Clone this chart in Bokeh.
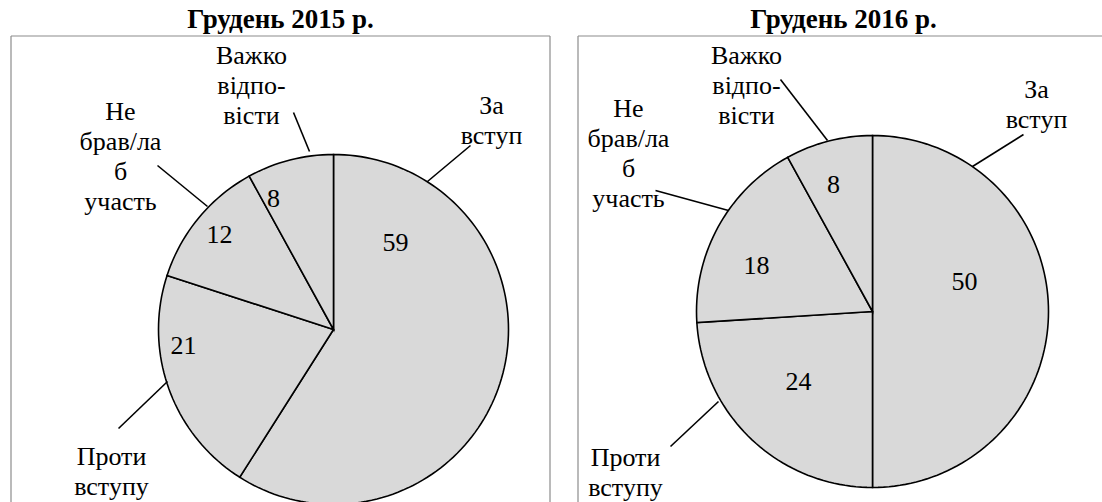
import math
from bokeh.plotting import figure
from bokeh.models import Range1d
from bokeh.core.properties import value
from bokeh.embed import file_html
from bokeh.resources import INLINE

# ---------------- data ----------------
categories = ["За вступ", "Проти вступу", "Не брав/ла б участь", "Важко відповісти"]
label_lines = [["За", "вступ"], ["Проти", "вступу"], ["Не", "брав/ла", "б", "участь"], ["Важко", "відпо-", "вісти"]]
titles = ["Грудень 2015 р.", "Грудень 2016 р."]
values_2015 = [59, 21, 12, 8]
values_2016 = [50, 24, 18, 8]

# ---------------- layout (page pixels) ----------------
W, H = 1102, 502
FONT = "Liberation Serif"
pies = [
    dict(values=values_2015, title=titles[0], cx=333, cy=329, r=175, title_x=280,
         box=(10.5, 549.5),
         value_pos=[(62, -78), (-150, 25), (-114, -86), (-60, -122)],
         label_pos=[(158, -215), (-222, 136), (-213, -209), (-82, -265)],
         leaders=[((137, -184), (94, -148)), ((-215, 99), (-166, 52)),
                  ((-176, -164), (-126, -123)), ((-40, -217), (-24, -178))]),
    dict(values=values_2016, title=titles[1], cx=872, cy=311, r=176, title_x=843,
         box=(577.5, 1110.5),
         value_pos=[(92, -21), (-74, 79), (-116, -37), (-39, -118)],
         label_pos=[(164, -213), (-247, 155), (-244, -194), (-126, -247)],
         leaders=[((151, -177), (100, -145)), ((-202, 135), (-154, 90)),
                  ((-217, -121), (-144, -101)), ((-92, -232), (-45, -171))]),
]
LINE_H = 30
BOX_TOP = 35.5
LABEL_SIZE = "26px"
TEXT_SHIFT = -9     # brings Bokeh's rendered baseline onto the intended one
TITLE_SHIFT = -10

p = figure(width=W, height=H, output_backend="svg", toolbar_location=None,
           x_range=Range1d(0, W), y_range=Range1d(H, 0),
           min_border=0, outline_line_color=None)
p.axis.visible = False
p.grid.visible = False
p.background_fill_color = "white"
p.border_fill_color = "white"

for pie in pies:
    cx, cy, r = pie["cx"], pie["cy"], pie["r"]
    vals = pie["values"]
    total = float(sum(vals))
    # frame box
    bx0, bx1 = pie["box"]
    p.multi_line(xs=[[bx0, bx0], [bx0, bx1], [bx1, bx1]],
                 ys=[[600, BOX_TOP], [BOX_TOP, BOX_TOP], [BOX_TOP, 600]],
                 line_color="#8c8c8c", line_width=1.2)
    # title
    p.text(x=[pie["title_x"]], y=[28 + TITLE_SHIFT], text=[pie["title"]], text_font=value(FONT),
           text_font_size="27px", text_font_style="bold", text_color="black",
           text_align="center", text_baseline="alphabetic")
    # slices
    xs, ys = [], []
    cum = 0.0
    for v in vals:
        a0 = 2 * math.pi * cum / total
        a1 = 2 * math.pi * (cum + v) / total
        n = max(4, int(200 * v / total))
        px = [cx]
        py = [cy]
        for i in range(n + 1):
            a = a0 + (a1 - a0) * i / n
            px.append(cx + r * math.sin(a))
            py.append(cy - r * math.cos(a))
        xs.append(px)
        ys.append(py)
        cum += v
    p.patches(xs=xs, ys=ys, fill_color="#d9d9d9", line_color="black", line_width=1.6,
              line_join="miter")
    # value labels
    p.text(x=[cx + dx for dx, dy in pie["value_pos"]],
           y=[cy + dy + TEXT_SHIFT for dx, dy in pie["value_pos"]],
           text=[str(v) for v in vals], text_font=value(FONT), text_font_size=LABEL_SIZE,
           text_color="black", text_align="center", text_baseline="alphabetic")
    # category labels
    tx, ty, tt = [], [], []
    for lines, (dx, dy) in zip(label_lines, pie["label_pos"]):
        for k, line in enumerate(lines):
            tx.append(cx + dx)
            ty.append(cy + dy + k * LINE_H + TEXT_SHIFT)
            tt.append(line)
    p.text(x=tx, y=ty, text=tt, text_font=value(FONT), text_font_size=LABEL_SIZE,
           text_color="black", text_align="center", text_baseline="alphabetic")
    # leader lines
    p.segment(x0=[cx + a[0] for a, b in pie["leaders"]], y0=[cy + a[1] for a, b in pie["leaders"]],
              x1=[cx + b[0] for a, b in pie["leaders"]], y1=[cy + b[1] for a, b in pie["leaders"]],
              line_color="black", line_width=1.6)

open("out.html", "w").write(file_html(p, INLINE))
